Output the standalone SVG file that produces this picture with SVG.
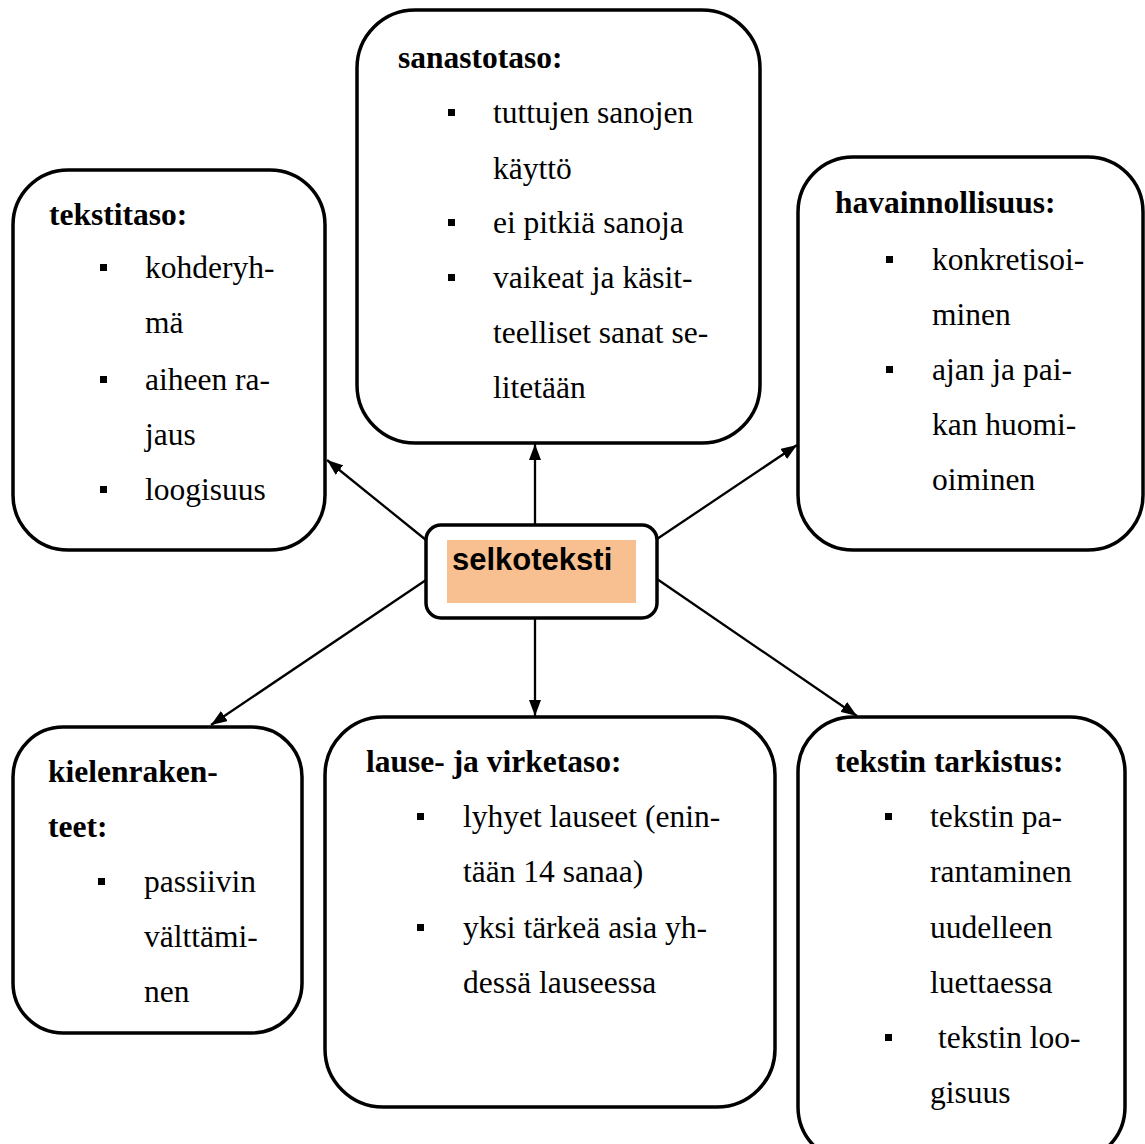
<svg xmlns="http://www.w3.org/2000/svg" width="1145" height="1144" viewBox="0 0 1145 1144">
<defs>
<style>
.box{fill:#fff;stroke:#000;stroke-width:3.5}
.t{font-family:"Liberation Serif","Times New Roman",serif;font-size:31.5px;fill:#000}
.b{font-weight:bold}
.blt{fill:#000}
.con{stroke:#000;stroke-width:2.3;fill:none;marker-end:url(#ah)}
</style>
<marker id="ah" viewBox="0 0 16 12" refX="16" refY="6" markerWidth="16" markerHeight="12" markerUnits="userSpaceOnUse" orient="auto">
<path d="M0,0 L16,6 L0,12 Z" fill="#000"/>
</marker>
</defs>
<rect width="1145" height="1144" fill="#fff"/>
<g id="connectors">
<line class="con" x1="426" y1="540" x2="327" y2="460"/>
<line class="con" x1="535" y1="525" x2="535" y2="444"/>
<line class="con" x1="657" y1="539" x2="797" y2="445"/>
<line class="con" x1="426" y1="580" x2="211" y2="725"/>
<line class="con" x1="535" y1="618" x2="535" y2="716"/>
<line class="con" x1="657" y1="579" x2="857" y2="716"/>
</g>
<g id="tekstitaso">
<rect class="box" x="13" y="170" width="312" height="380" rx="55"/>
<text class="t b" x="49" y="225">tekstitaso:</text>
<rect class="blt" x="100" y="264" width="7" height="7"/>
<text class="t" x="145" y="278">kohderyh-</text>
<text class="t" x="145" y="333">mä</text>
<rect class="blt" x="100" y="376" width="7" height="7"/>
<text class="t" x="145" y="390">aiheen ra-</text>
<text class="t" x="145" y="445">jaus</text>
<rect class="blt" x="100" y="486" width="7" height="7"/>
<text class="t" x="145" y="500">loogisuus</text>
</g>
<g id="sanastotaso">
<rect class="box" x="357" y="10" width="403" height="433" rx="58"/>
<text class="t b" x="398" y="68">sanastotaso:</text>
<rect class="blt" x="448" y="109" width="7" height="7"/>
<text class="t" x="493" y="123">tuttujen sanojen</text>
<text class="t" x="493" y="179">käyttö</text>
<rect class="blt" x="448" y="219" width="7" height="7"/>
<text class="t" x="493" y="233">ei pitkiä sanoja</text>
<rect class="blt" x="448" y="274" width="7" height="7"/>
<text class="t" x="493" y="288">vaikeat ja käsit-</text>
<text class="t" x="493" y="343">teelliset sanat se-</text>
<text class="t" x="493" y="398">litetään</text>
</g>
<g id="havainnollisuus">
<rect class="box" x="798" y="157" width="345" height="393" rx="55"/>
<text class="t b" x="835" y="213">havainnollisuus:</text>
<rect class="blt" x="886" y="256" width="7" height="7"/>
<text class="t" x="932" y="270">konkretisoi-</text>
<text class="t" x="932" y="325">minen</text>
<rect class="blt" x="886" y="366" width="7" height="7"/>
<text class="t" x="932" y="380">ajan ja pai-</text>
<text class="t" x="932" y="435">kan huomi-</text>
<text class="t" x="932" y="490">oiminen</text>
</g>
<g id="selkoteksti">
<rect x="426" y="525" width="231" height="93" rx="15" fill="#fff" stroke="#000" stroke-width="3.5"/>
<rect x="447" y="540" width="189" height="63" fill="#F8C090"/>
<text x="452" y="570" font-family="'Liberation Sans',Arial,sans-serif" font-weight="bold" font-size="31px" fill="#000">selkoteksti</text>
</g>
<g id="kielenrakenteet">
<rect class="box" x="13" y="727" width="289" height="306" rx="50"/>
<text class="t b" x="48" y="782">kielenraken-</text>
<text class="t b" x="48" y="837">teet:</text>
<rect class="blt" x="98" y="878" width="7" height="7"/>
<text class="t" x="144" y="892">passiivin</text>
<text class="t" x="144" y="947">välttämi-</text>
<text class="t" x="144" y="1002">nen</text>
</g>
<g id="lause">
<rect class="box" x="325" y="717" width="450" height="390" rx="58"/>
<text class="t b" x="366" y="772">lause- ja virketaso:</text>
<rect class="blt" x="417" y="813" width="7" height="7"/>
<text class="t" x="463" y="827">lyhyet lauseet (enin-</text>
<text class="t" x="463" y="882">tään 14 sanaa)</text>
<rect class="blt" x="417" y="924" width="7" height="7"/>
<text class="t" x="463" y="938">yksi tärkeä asia yh-</text>
<text class="t" x="463" y="993">dessä lauseessa</text>
</g>
<g id="tarkistus">
<rect class="box" x="798" y="717" width="327" height="445" rx="55"/>
<text class="t b" x="835" y="772">tekstin tarkistus:</text>
<rect class="blt" x="885" y="813" width="7" height="7"/>
<text class="t" x="930" y="827">tekstin pa-</text>
<text class="t" x="930" y="882">rantaminen</text>
<text class="t" x="930" y="938">uudelleen</text>
<text class="t" x="930" y="993">luettaessa</text>
<rect class="blt" x="885" y="1034" width="7" height="7"/>
<text class="t" x="938" y="1048">tekstin loo-</text>
<text class="t" x="930" y="1103">gisuus</text>
</g>
</svg>
